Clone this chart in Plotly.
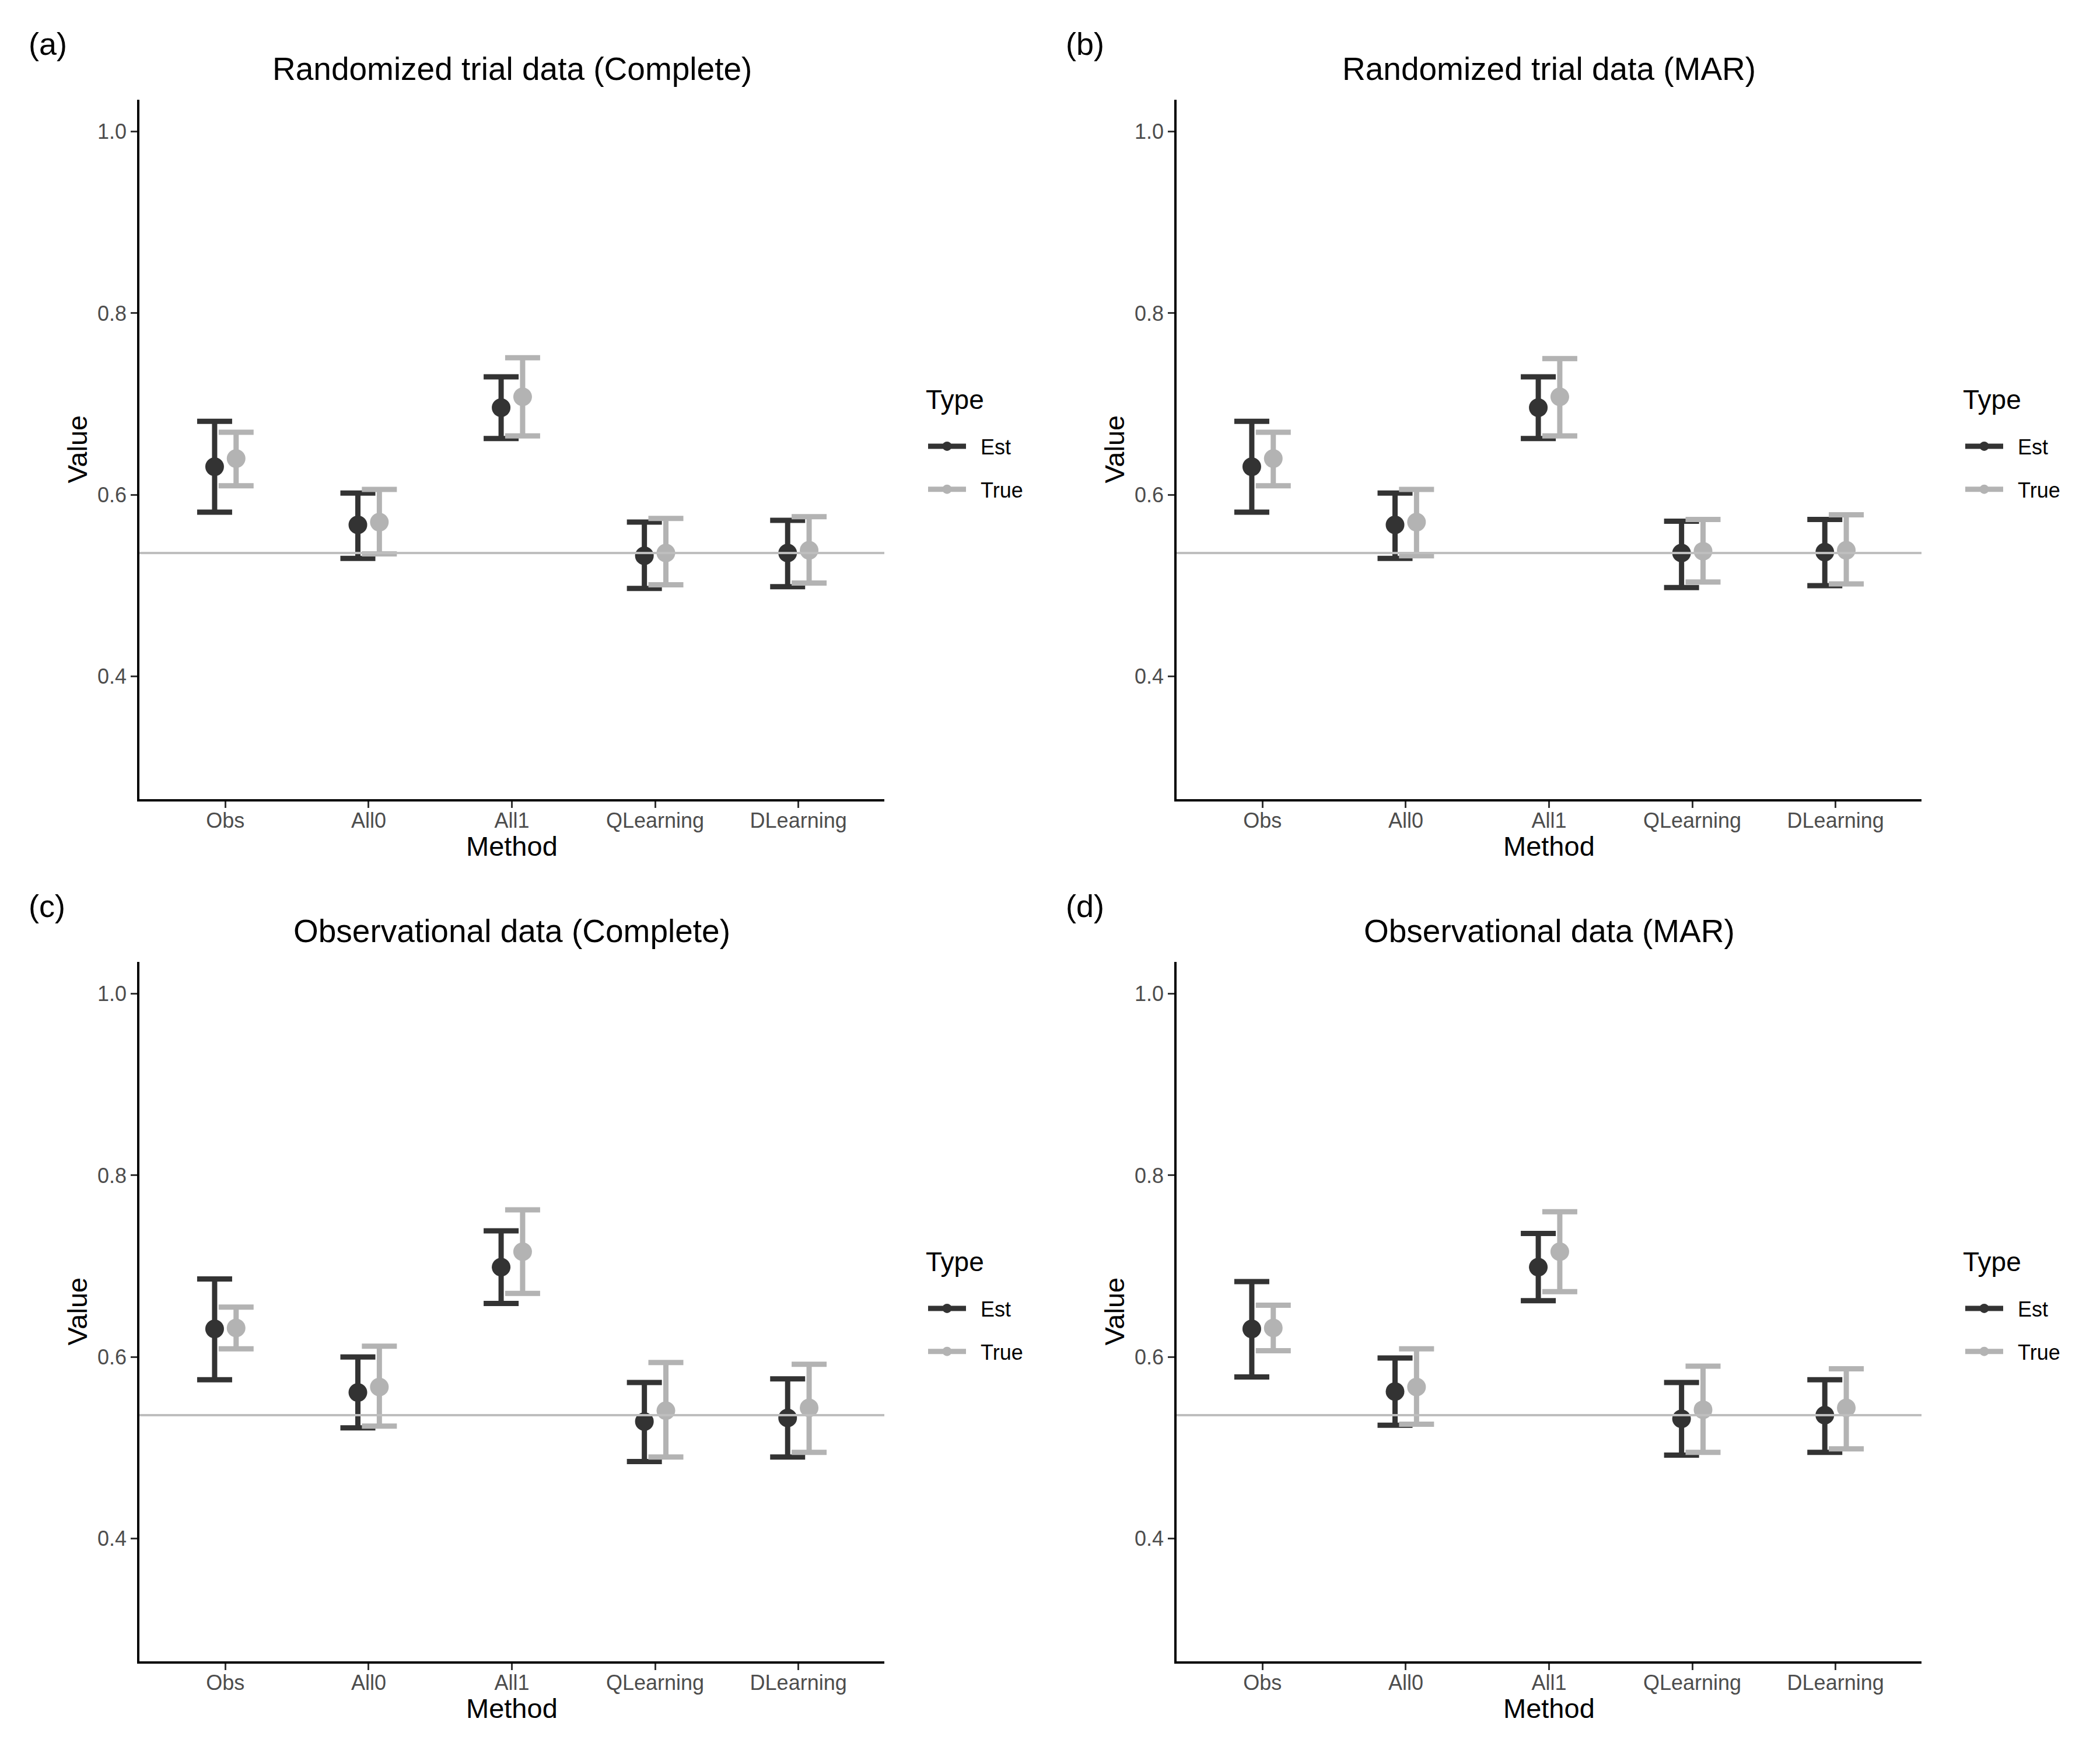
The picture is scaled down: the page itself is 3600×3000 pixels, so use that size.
import plotly.graph_objects as go

methods = ["Obs", "All0", "All1", "QLearning", "DLearning"]
panel_titles = [
    "Randomized trial data (Complete)",
    "Randomized trial data (MAR)",
    "Observational data (Complete)",
    "Observational data (MAR)",
]
panel_tags = ["(a)", "(b)", "(c)", "(d)"]
type_names = ["Est", "True"]
reference_value = 0.536

# (a) randomized, complete
est_a = [0.631, 0.567, 0.696, 0.533, 0.536]
est_lo_a = [0.581, 0.530, 0.662, 0.497, 0.499]
est_hi_a = [0.681, 0.602, 0.730, 0.570, 0.572]
true_a = [0.640, 0.570, 0.708, 0.536, 0.539]
true_lo_a = [0.610, 0.535, 0.665, 0.501, 0.503]
true_hi_a = [0.669, 0.606, 0.751, 0.574, 0.576]

# (b) randomized, MAR
est_b = [0.631, 0.567, 0.696, 0.536, 0.537]
est_lo_b = [0.581, 0.530, 0.662, 0.498, 0.500]
est_hi_b = [0.681, 0.602, 0.730, 0.571, 0.573]
true_b = [0.640, 0.570, 0.708, 0.538, 0.539]
true_lo_b = [0.610, 0.533, 0.665, 0.504, 0.502]
true_hi_b = [0.669, 0.606, 0.750, 0.573, 0.578]

# (c) observational, complete
est_c = [0.631, 0.561, 0.699, 0.529, 0.533]
est_lo_c = [0.575, 0.522, 0.659, 0.485, 0.490]
est_hi_c = [0.686, 0.600, 0.739, 0.572, 0.576]
true_c = [0.632, 0.567, 0.716, 0.541, 0.544]
true_lo_c = [0.609, 0.524, 0.670, 0.490, 0.495]
true_hi_c = [0.655, 0.612, 0.762, 0.594, 0.592]

# (d) observational, MAR
est_d = [0.631, 0.562, 0.699, 0.532, 0.536]
est_lo_d = [0.578, 0.525, 0.662, 0.492, 0.495]
est_hi_d = [0.683, 0.599, 0.736, 0.572, 0.575]
true_d = [0.632, 0.567, 0.716, 0.542, 0.544]
true_lo_d = [0.607, 0.526, 0.672, 0.495, 0.499]
true_hi_d = [0.657, 0.609, 0.760, 0.590, 0.587]

panels = [
    [(est_a, est_lo_a, est_hi_a), (true_a, true_lo_a, true_hi_a)],
    [(est_b, est_lo_b, est_hi_b), (true_b, true_lo_b, true_hi_b)],
    [(est_c, est_lo_c, est_hi_c), (true_c, true_lo_c, true_hi_c)],
    [(est_d, est_lo_d, est_hi_d), (true_d, true_lo_d, true_hi_d)],
]

W, H = 3600, 3000
FONT = "Liberation Sans, Arial, Helvetica, sans-serif"
colors = ["#333333", "#B3B3B3"]
dodge = [-0.075, 0.075]

# panel boxes in pixels: left, right / top, bottom
col_x = [(231, 1508), (2009, 3286)]
row_y = [(163, 1362), (1641, 2840)]

fig = go.Figure()

for p in range(4):
    r, c = divmod(p, 2)
    n = "" if p == 0 else str(p + 1)
    x0, x1 = col_x[c]
    y0, y1 = row_y[r]
    dx = x0 - col_x[0][0]
    dy = y0 - row_y[0][0]
    xdom = [x0 / W, x1 / W]
    ydom = [1 - y1 / H, 1 - y0 / H]
    legend_name = "legend" + n

    for k, (vals, lo, hi) in enumerate(panels[p]):
        fig.add_trace(
            go.Scatter(
                x=[i + dodge[k] for i in range(len(methods))],
                y=vals,
                mode="markers",
                marker=dict(color=colors[k], size=32, line=dict(width=0)),
                error_y=dict(
                    type="data",
                    symmetric=False,
                    array=[h - v for h, v in zip(hi, vals)],
                    arrayminus=[v - l for v, l in zip(vals, lo)],
                    color=colors[k],
                    thickness=9,
                    width=30,
                ),
                xaxis="x" + n,
                yaxis="y" + n,
                showlegend=False,
            )
        )
        # legend key (line + point like the ggplot key)
        fig.add_trace(
            go.Scatter(
                x=[None],
                y=[None],
                mode="lines+markers",
                name="\u00a0\u00a0" + type_names[k],
                line=dict(color=colors[k], width=9),
                marker=dict(color=colors[k], size=32),
                xaxis="x" + n,
                yaxis="y" + n,
                legend=legend_name,
                legendgroup=type_names[k] + n,
            )
        )

    axis_common = dict(
        showline=True,
        linecolor="black",
        linewidth=3.5,
        ticks="outside",
        ticklen=11,
        tickwidth=3,
        tickcolor="#333333",
        tickfont=dict(family=FONT, size=36, color="#4D4D4D"),
        showgrid=False,
        zeroline=False,
    )
    fig.update_layout(
        {
            "xaxis" + n: dict(
                axis_common,
                domain=xdom,
                anchor="y" + n,
                range=[-0.6, len(methods) - 0.4],
                tickmode="array",
                tickvals=list(range(len(methods))),
                ticktext=methods,
                ticklabelstandoff=-9,
            ),
            "yaxis" + n: dict(
                axis_common,
                domain=ydom,
                anchor="x" + n,
                range=[0.265, 1.035],
                tickmode="array",
                tickvals=[0.4, 0.6, 0.8, 1.0],
                tickformat=".1f",
            ),
            legend_name: dict(
                x=(1578 + dx) / W,
                y=1 - (727 + dy) / H,
                xanchor="left",
                yanchor="top",
                bgcolor="rgba(0,0,0,0)",
                font=dict(family=FONT, size=36, color="black"),
                tracegroupgap=24,
                itemwidth=65,
            ),
        }
    )

    # reference line across the whole panel
    fig.add_shape(
        type="line",
        xref="x" + n + " domain",
        yref="y" + n,
        x0=0,
        x1=1,
        y0=reference_value,
        y1=reference_value,
        line=dict(color="#BEBEBE", width=4),
        layer="above",
    )

    xc = (x0 + x1) / 2 / W
    yc = 1 - (y0 + y1) / 2 / H
    texts = [
        (panel_titles[p], xc, 1 - (110 + dy) / H, "center", 0, 55),
        (panel_tags[p], (39 + dx) / W, 1 - (67 + dy) / H, "left", 0, 54),
        ("Method", xc, 1 - (1442 + dy) / H, "center", 0, 47),
        ("Value", (124 + dx) / W, yc, "center", -90, 47),
        ("Type", (1577 + dx) / W, 1 - (677 + dy) / H, "left", 0, 46),
    ]
    for txt, tx, ty, anchor, angle, size in texts:
        fig.add_annotation(
            text=txt, x=tx, y=ty, xref="paper", yref="paper",
            xanchor=anchor, yanchor="middle", textangle=angle, showarrow=False,
            font=dict(family=FONT, size=size, color="black"),
        )

fig.update_layout(
    width=W,
    height=H,
    margin=dict(l=0, r=0, t=0, b=0),
    plot_bgcolor="white",
    paper_bgcolor="white",
    font=dict(family=FONT),
)

fig.write_html("out.html")
